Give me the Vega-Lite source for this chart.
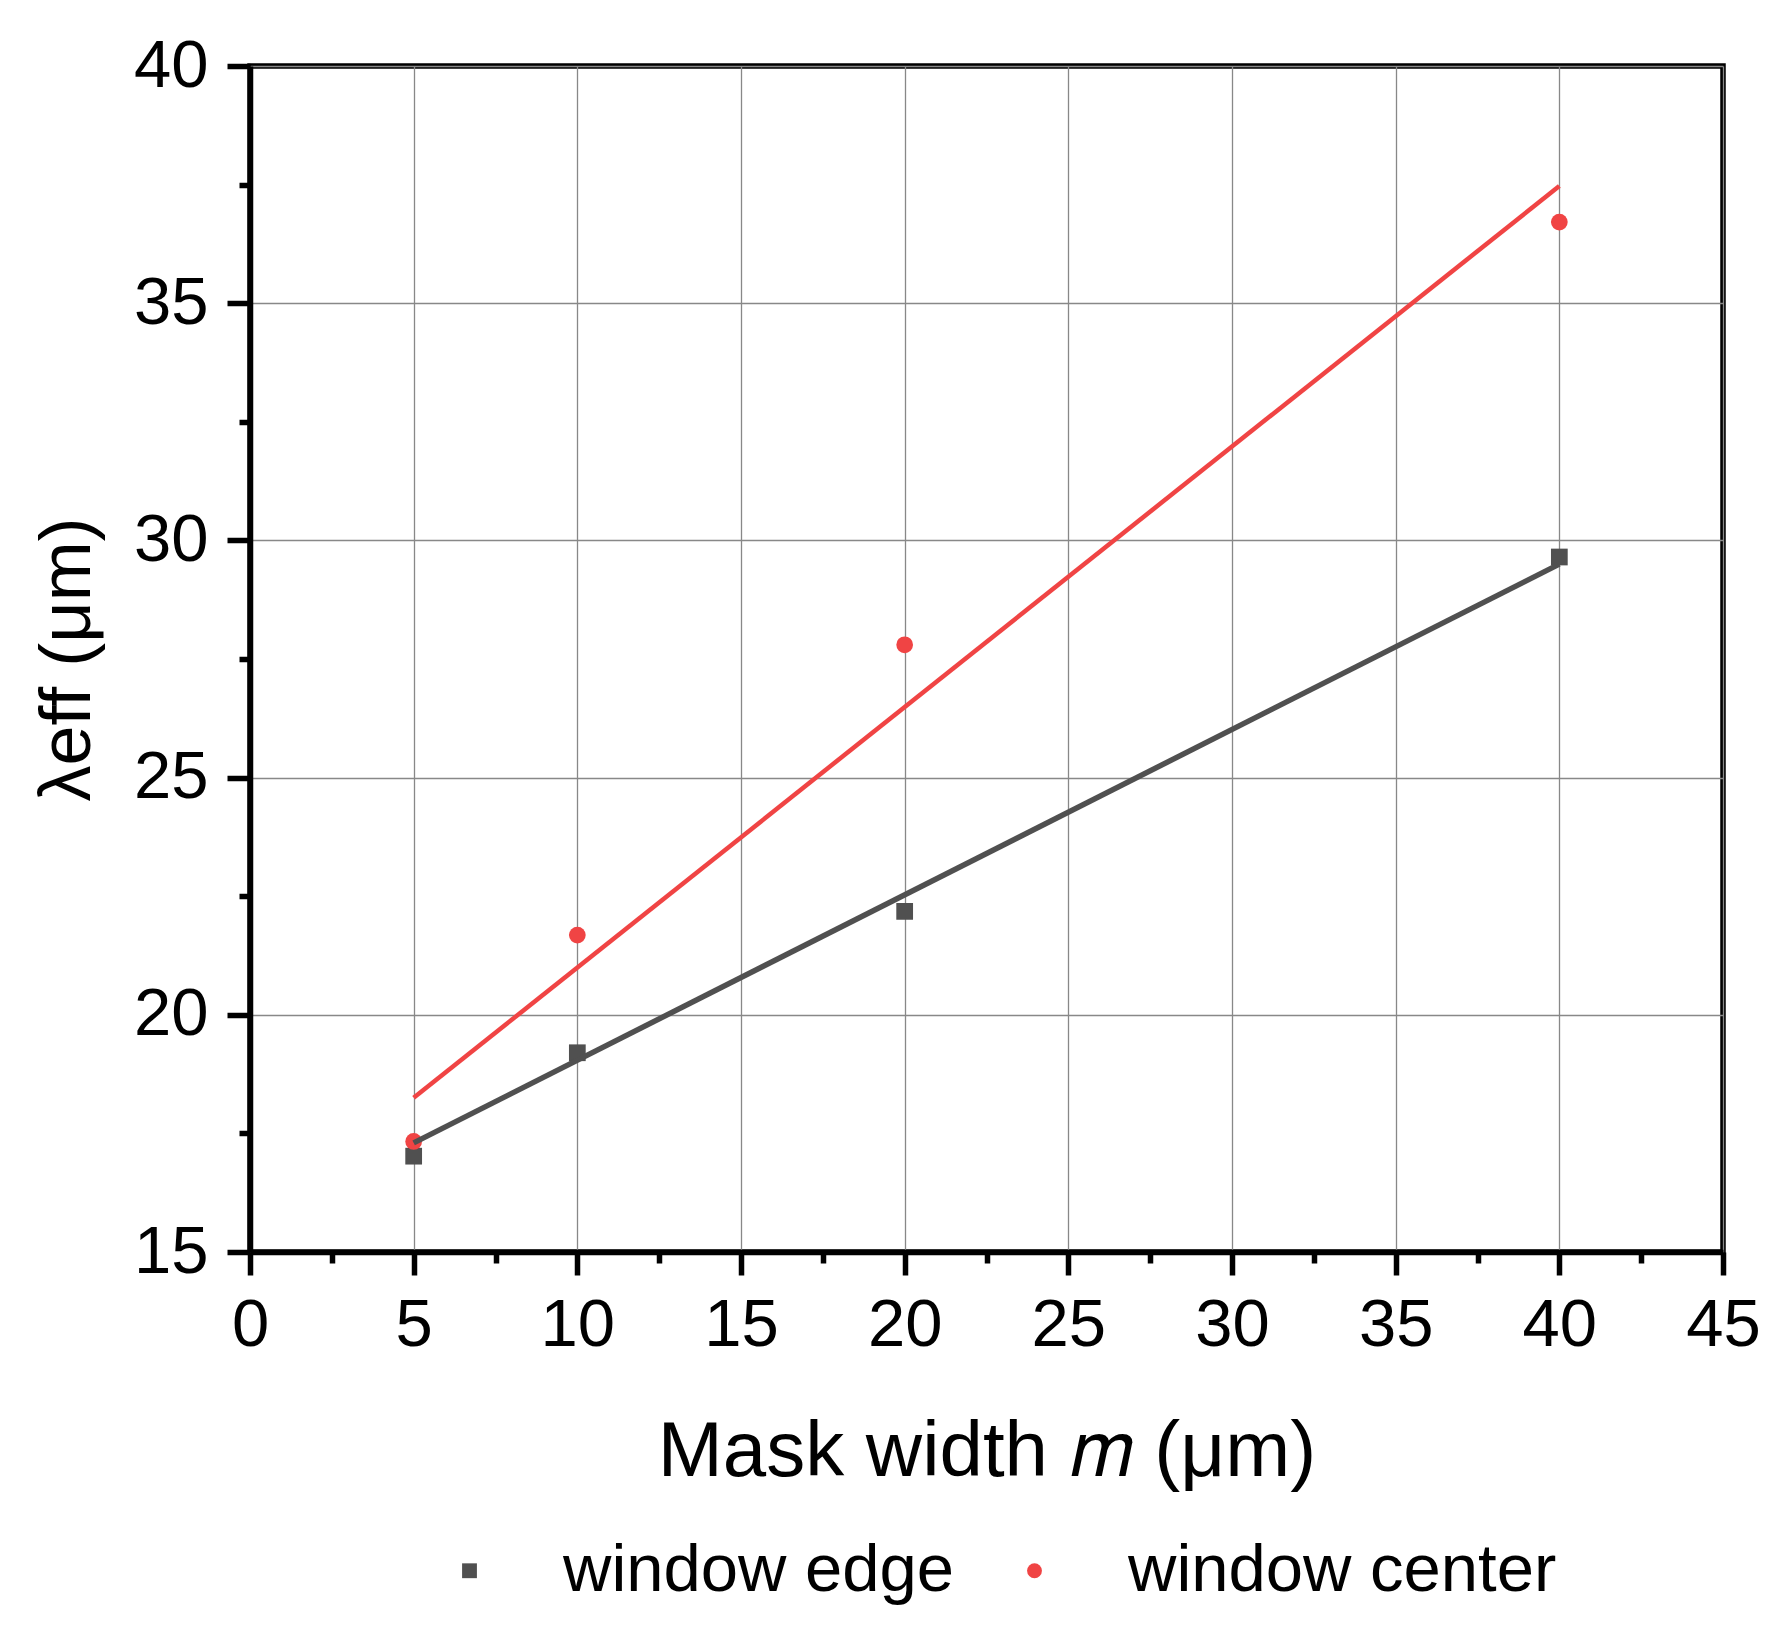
{
  "$schema": "https://vega.github.io/schema/vega-lite/v6.json",
  "width": 1473,
  "height": 1186,
  "autosize": {"type": "none"},
  "padding": {"left": 250, "top": 66, "right": 64, "bottom": 392},
  "background": "white",
  "config": {
    "font": "Liberation Sans",
    "view": {"stroke": "black", "strokeWidth": 5.5},
    "axis": {
      "domainColor": "black",
      "domainWidth": 5.5,
      "tickColor": "black",
      "tickWidth": 5.5,
      "labelFont": "Liberation Sans",
      "labelFontSize": 67,
      "labelColor": "black",
      "titleFont": "Liberation Sans",
      "titleColor": "black",
      "titleFontWeight": "normal",
      "gridColor": "#888888",
      "gridWidth": 1.3,
      "labelFlush": false,
      "labelOverlap": false
    },
    "legend": {
      "labelFont": "Liberation Sans",
      "labelFontSize": 67,
      "labelColor": "black",
      "labelLimit": 0
    }
  },
  "datasets": {
    "measured": [
      {"m": 5, "lambda": 17.02, "series": "window edge"},
      {"m": 10, "lambda": 19.2, "series": "window edge"},
      {"m": 20, "lambda": 22.18, "series": "window edge"},
      {"m": 40, "lambda": 29.65, "series": "window edge"},
      {"m": 5, "lambda": 17.33, "series": "window center"},
      {"m": 10, "lambda": 21.68, "series": "window center"},
      {"m": 20, "lambda": 27.8, "series": "window center"},
      {"m": 40, "lambda": 36.71, "series": "window center"}
    ],
    "fits": [
      {"m": 5, "lambda": 17.3, "series": "window edge"},
      {"m": 40, "lambda": 29.5, "series": "window edge"},
      {"m": 5, "lambda": 18.25, "series": "window center"},
      {"m": 40, "lambda": 37.47, "series": "window center"}
    ]
  },
  "layer": [
    {
      "data": {"name": "measured"},
      "mark": {"type": "point", "filled": true, "opacity": 1, "size": 280, "strokeWidth": 0},
      "encoding": {
        "x": {
          "field": "m",
          "type": "quantitative",
          "scale": {"domain": [0, 45], "nice": false, "zero": false},
          "axis": {
            "values": [0, 2.5, 5, 7.5, 10, 12.5, 15, 17.5, 20, 22.5, 25, 27.5, 30, 32.5, 35, 37.5, 40, 42.5, 45],
            "labelExpr": "datum.value % 5 === 0 ? datum.label : ''",
            "tickSize": {"condition": {"test": "datum.value % 5 === 0", "value": 23}, "value": 11},
            "gridOpacity": {"condition": {"test": "datum.value % 5 === 0", "value": 1}, "value": 0},
            "labelPadding": 17,
            "title": "Mask width 𝑚 (μm)",
            "titleFontSize": 78,
            "titlePadding": 55
          }
        },
        "y": {
          "field": "lambda",
          "type": "quantitative",
          "scale": {"domain": [15, 40], "nice": false, "zero": false},
          "axis": {
            "values": [15, 17.5, 20, 22.5, 25, 27.5, 30, 32.5, 35, 37.5, 40],
            "labelExpr": "datum.value % 5 === 0 ? datum.label : ''",
            "tickSize": {"condition": {"test": "datum.value % 5 === 0", "value": 23}, "value": 11},
            "gridOpacity": {"condition": {"test": "datum.value % 5 === 0", "value": 1}, "value": 0},
            "labelPadding": 19,
            "title": "λeff (μm)",
            "titleFontSize": 72,
            "titlePadding": 29
          }
        },
        "color": {
          "field": "series",
          "type": "nominal",
          "scale": {"domain": ["window edge", "window center"], "range": ["#505050", "#f04444"]},
          "legend": {
            "title": null,
            "orient": "none",
            "direction": "horizontal",
            "legendX": 186,
            "legendY": 1471,
            "padding": 0,
            "symbolSize": 220,
            "symbolStrokeWidth": 0,
            "labelOffset": 60,
            "columnPadding": 46
          }
        },
        "shape": {
          "field": "series",
          "type": "nominal",
          "scale": {"domain": ["window edge", "window center"], "range": ["square", "circle"]},
          "legend": {
            "title": null,
            "orient": "none",
            "direction": "horizontal",
            "legendX": 186,
            "legendY": 1471,
            "padding": 0,
            "symbolSize": 220,
            "symbolStrokeWidth": 0,
            "labelOffset": 60,
            "columnPadding": 46
          }
        }
      }
    },
    {
      "data": {"name": "fits"},
      "transform": [{"filter": "datum.series === 'window edge'"}],
      "mark": {"type": "line", "color": "#505050", "strokeWidth": 5.5},
      "encoding": {
        "x": {"field": "m", "type": "quantitative"},
        "y": {"field": "lambda", "type": "quantitative"}
      }
    },
    {
      "data": {"name": "fits"},
      "transform": [{"filter": "datum.series === 'window center'"}],
      "mark": {"type": "line", "color": "#f04444", "strokeWidth": 4.5},
      "encoding": {
        "x": {"field": "m", "type": "quantitative"},
        "y": {"field": "lambda", "type": "quantitative"}
      }
    }
  ]
}
